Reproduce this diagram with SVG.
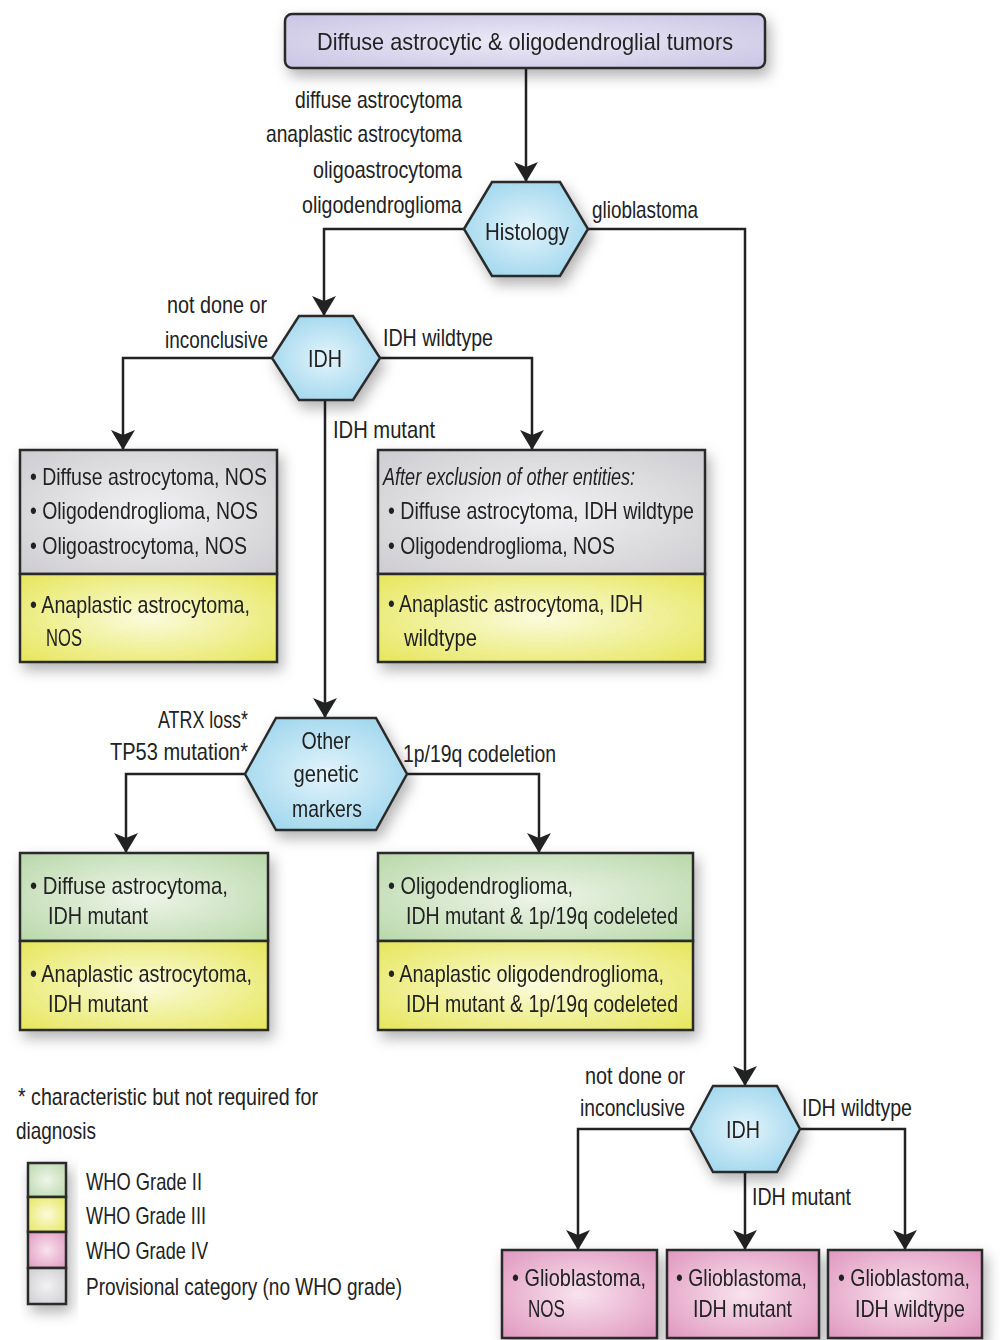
<svg xmlns="http://www.w3.org/2000/svg" width="1000" height="1340" viewBox="0 0 1000 1340">
<style>
text{font-family:"Liberation Sans Narrow","Liberation Sans",Arial,sans-serif;font-size:24px;fill:#222}
.lbl{fill:#2a2a2a}
.box{stroke:#2b2b2b;stroke-width:2.5}
.hex{fill:url(#gBlue);stroke:#2b2b2b;stroke-width:2.5;stroke-linejoin:miter}
.edge{fill:none;stroke:#222;stroke-width:2.5}
.mid{text-anchor:middle}
.end{text-anchor:end}
.it{font-style:italic}
</style>
<defs>
<radialGradient id="gGray" cx="50%" cy="50%" r="70%"><stop offset="0" stop-color="#f2f2f3"/><stop offset="1" stop-color="#cdcdd1"/></radialGradient>
<radialGradient id="gYel" cx="50%" cy="50%" r="70%"><stop offset="0" stop-color="#fbfbdc"/><stop offset="1" stop-color="#e6e65a"/></radialGradient>
<radialGradient id="gGreen" cx="50%" cy="50%" r="70%"><stop offset="0" stop-color="#eef5e9"/><stop offset="1" stop-color="#b9d8aa"/></radialGradient>
<radialGradient id="gPink" cx="50%" cy="50%" r="70%"><stop offset="0" stop-color="#f8e3ee"/><stop offset="1" stop-color="#e097bf"/></radialGradient>
<radialGradient id="gLav" cx="50%" cy="50%" r="70%"><stop offset="0" stop-color="#eceaf7"/><stop offset="1" stop-color="#c9c4e4"/></radialGradient>
<radialGradient id="gBlue" cx="50%" cy="50%" r="65%"><stop offset="0" stop-color="#e3f4fb"/><stop offset="1" stop-color="#98d3ec"/></radialGradient>
<filter id="sh" x="-20%" y="-20%" width="150%" height="160%"><feDropShadow dx="4" dy="7" stdDeviation="7" flood-color="#000" flood-opacity="0.3"/></filter>
<marker id="arr" markerUnits="userSpaceOnUse" viewBox="0 0 20 24" markerWidth="20" markerHeight="24" refX="19" refY="12" orient="auto"><path d="M0,0 L20,12 L0,24 L5,12 z" fill="#222"/></marker>
</defs>
<rect width="1000" height="1340" fill="#ffffff"/>

<g id="connectors">
<path class="edge" d="M526,68 V181" marker-end="url(#arr)"/>
<path class="edge" d="M464,229 H324 V315" marker-end="url(#arr)"/>
<path class="edge" d="M588,229 H745 V1085" marker-end="url(#arr)"/>
<path class="edge" d="M272,358 H123 V449" marker-end="url(#arr)"/>
<path class="edge" d="M380,358 H532 V449" marker-end="url(#arr)"/>
<path class="edge" d="M325,400 V717" marker-end="url(#arr)"/>
<path class="edge" d="M245,774 H126 V852" marker-end="url(#arr)"/>
<path class="edge" d="M407,774 H539 V852" marker-end="url(#arr)"/>
<path class="edge" d="M690,1129 H578 V1249" marker-end="url(#arr)"/>
<path class="edge" d="M745,1172 V1249" marker-end="url(#arr)"/>
<path class="edge" d="M800,1129 H905 V1249" marker-end="url(#arr)"/>
</g>

<g id="edge-labels" class="lbl">
<text class="end" x="462" y="108" textLength="167" lengthAdjust="spacingAndGlyphs">diffuse astrocytoma</text>
<text class="end" x="462" y="142" textLength="196" lengthAdjust="spacingAndGlyphs">anaplastic astrocytoma</text>
<text class="end" x="462" y="178" textLength="149" lengthAdjust="spacingAndGlyphs">oligoastrocytoma</text>
<text class="end" x="462" y="213" textLength="160" lengthAdjust="spacingAndGlyphs">oligodendroglioma</text>
<text x="592" y="218" textLength="106" lengthAdjust="spacingAndGlyphs">glioblastoma</text>
<text class="end" x="267" y="313" textLength="100" lengthAdjust="spacingAndGlyphs">not done or</text>
<text class="end" x="268" y="348" textLength="103" lengthAdjust="spacingAndGlyphs">inconclusive</text>
<text x="383" y="346" textLength="110" lengthAdjust="spacingAndGlyphs">IDH wildtype</text>
<text x="333" y="438" textLength="102" lengthAdjust="spacingAndGlyphs">IDH mutant</text>
<text class="end" x="248" y="728" textLength="90" lengthAdjust="spacingAndGlyphs">ATRX loss*</text>
<text class="end" x="248" y="760" textLength="138" lengthAdjust="spacingAndGlyphs">TP53 mutation*</text>
<text x="403" y="762" textLength="153" lengthAdjust="spacingAndGlyphs">1p/19q codeletion</text>
<text class="end" x="685" y="1084" textLength="100" lengthAdjust="spacingAndGlyphs">not done or</text>
<text class="end" x="685" y="1116" textLength="105" lengthAdjust="spacingAndGlyphs">inconclusive</text>
<text x="802" y="1116" textLength="110" lengthAdjust="spacingAndGlyphs">IDH wildtype</text>
<text x="752" y="1205" textLength="99" lengthAdjust="spacingAndGlyphs">IDH mutant</text>
</g>

<g id="n-root" filter="url(#sh)">
<rect class="box" x="285" y="14" width="480" height="54" rx="7" fill="url(#gLav)"/>
<text class="mid" x="525" y="50" font-size="25" textLength="416" lengthAdjust="spacingAndGlyphs">Diffuse astrocytic &amp; oligodendroglial tumors</text>
</g>

<g id="n-histology" filter="url(#sh)">
<polygon class="hex" points="464,229 492,182 560,182 588,229 560,276 492,276"/>
<text class="mid" x="527" y="240" font-size="25" textLength="84" lengthAdjust="spacingAndGlyphs">Histology</text>
</g>

<g id="n-idh1" filter="url(#sh)">
<polygon class="hex" points="272,358 299,316 353,316 380,358 353,400 299,400"/>
<text class="mid" x="325" y="367" font-size="25" textLength="34" lengthAdjust="spacingAndGlyphs">IDH</text>
</g>

<g id="n-nos" filter="url(#sh)">
<rect class="box" x="20" y="450" width="257" height="124" fill="url(#gGray)"/>
<rect class="box" x="20" y="574" width="257" height="88" fill="url(#gYel)"/>
<text x="30" y="485" textLength="237" lengthAdjust="spacingAndGlyphs">• Diffuse astrocytoma, NOS</text>
<text x="30" y="519" textLength="228" lengthAdjust="spacingAndGlyphs">• Oligodendroglioma, NOS</text>
<text x="30" y="554" textLength="217" lengthAdjust="spacingAndGlyphs">• Oligoastrocytoma, NOS</text>
<text x="30" y="613" textLength="220" lengthAdjust="spacingAndGlyphs">• Anaplastic astrocytoma,</text>
<text x="46" y="646" textLength="36" lengthAdjust="spacingAndGlyphs">NOS</text>
</g>

<g id="n-wildtype" filter="url(#sh)">
<rect class="box" x="378" y="450" width="327" height="124" fill="url(#gGray)"/>
<rect class="box" x="378" y="574" width="327" height="88" fill="url(#gYel)"/>
<text class="it" x="383" y="485" textLength="252" lengthAdjust="spacingAndGlyphs">After exclusion of other entities:</text>
<text x="388" y="519" textLength="306" lengthAdjust="spacingAndGlyphs">• Diffuse astrocytoma, IDH wildtype</text>
<text x="388" y="554" textLength="227" lengthAdjust="spacingAndGlyphs">• Oligodendroglioma, NOS</text>
<text x="388" y="612" textLength="255" lengthAdjust="spacingAndGlyphs">• Anaplastic astrocytoma, IDH</text>
<text x="404" y="646" textLength="73" lengthAdjust="spacingAndGlyphs">wildtype</text>
</g>

<g id="n-markers" filter="url(#sh)">
<polygon class="hex" points="245,774 276,718 376,718 407,774 376,830 276,830"/>
<text class="mid" x="326" y="749" textLength="49" lengthAdjust="spacingAndGlyphs">Other</text>
<text class="mid" x="326" y="782" textLength="65" lengthAdjust="spacingAndGlyphs">genetic</text>
<text class="mid" x="327" y="817" textLength="70" lengthAdjust="spacingAndGlyphs">markers</text>
</g>

<g id="n-astro-mut" filter="url(#sh)">
<rect class="box" x="20" y="853" width="248" height="88" fill="url(#gGreen)"/>
<rect class="box" x="20" y="941" width="248" height="89" fill="url(#gYel)"/>
<text x="30" y="894" textLength="198" lengthAdjust="spacingAndGlyphs">• Diffuse astrocytoma,</text>
<text x="48" y="924" textLength="100" lengthAdjust="spacingAndGlyphs">IDH mutant</text>
<text x="30" y="982" textLength="222" lengthAdjust="spacingAndGlyphs">• Anaplastic astrocytoma,</text>
<text x="48" y="1012" textLength="100" lengthAdjust="spacingAndGlyphs">IDH mutant</text>
</g>

<g id="n-oligo" filter="url(#sh)">
<rect class="box" x="378" y="853" width="315" height="88" fill="url(#gGreen)"/>
<rect class="box" x="378" y="941" width="315" height="89" fill="url(#gYel)"/>
<text x="388" y="894" textLength="185" lengthAdjust="spacingAndGlyphs">• Oligodendroglioma,</text>
<text x="406" y="924" textLength="272" lengthAdjust="spacingAndGlyphs">IDH mutant &amp; 1p/19q codeleted</text>
<text x="388" y="982" textLength="276" lengthAdjust="spacingAndGlyphs">• Anaplastic oligodendroglioma,</text>
<text x="406" y="1012" textLength="272" lengthAdjust="spacingAndGlyphs">IDH mutant &amp; 1p/19q codeleted</text>
</g>

<g id="n-idh2" filter="url(#sh)">
<polygon class="hex" points="690,1129 713,1086 777,1086 800,1129 777,1172 713,1172"/>
<text class="mid" x="743" y="1138" font-size="25" textLength="34" lengthAdjust="spacingAndGlyphs">IDH</text>
</g>

<g id="n-gbm-nos" filter="url(#sh)">
<rect class="box" x="502" y="1250" width="155" height="88" fill="url(#gPink)"/>
<text x="512" y="1286" textLength="134" lengthAdjust="spacingAndGlyphs">• Glioblastoma,</text>
<text x="528" y="1317" textLength="37" lengthAdjust="spacingAndGlyphs">NOS</text>
</g>

<g id="n-gbm-mut" filter="url(#sh)">
<rect class="box" x="667" y="1250" width="152" height="88" fill="url(#gPink)"/>
<text x="676" y="1286" textLength="131" lengthAdjust="spacingAndGlyphs">• Glioblastoma,</text>
<text x="693" y="1317" textLength="99" lengthAdjust="spacingAndGlyphs">IDH mutant</text>
</g>

<g id="n-gbm-wt" filter="url(#sh)">
<rect class="box" x="828" y="1250" width="154" height="88" fill="url(#gPink)"/>
<text x="838" y="1286" textLength="132" lengthAdjust="spacingAndGlyphs">• Glioblastoma,</text>
<text x="855" y="1317" textLength="110" lengthAdjust="spacingAndGlyphs">IDH wildtype</text>
</g>

<g id="legend">
<text x="18" y="1105" textLength="300" lengthAdjust="spacingAndGlyphs">* characteristic but not required for</text>
<text x="16" y="1139" textLength="80" lengthAdjust="spacingAndGlyphs">diagnosis</text>
<g filter="url(#sh)">
<rect class="box" x="28" y="1163" width="38" height="34" fill="url(#gGreen)"/>
<rect class="box" x="28" y="1197" width="38" height="35" fill="url(#gYel)"/>
<rect class="box" x="28" y="1232" width="38" height="36" fill="url(#gPink)"/>
<rect class="box" x="28" y="1268" width="38" height="36" fill="url(#gGray)"/>
</g>
<text x="86" y="1190" textLength="116" lengthAdjust="spacingAndGlyphs">WHO Grade II</text>
<text x="86" y="1224" textLength="120" lengthAdjust="spacingAndGlyphs">WHO Grade III</text>
<text x="86" y="1259" textLength="122" lengthAdjust="spacingAndGlyphs">WHO Grade IV</text>
<text x="86" y="1295" textLength="316" lengthAdjust="spacingAndGlyphs">Provisional category (no WHO grade)</text>
</g>
</svg>
